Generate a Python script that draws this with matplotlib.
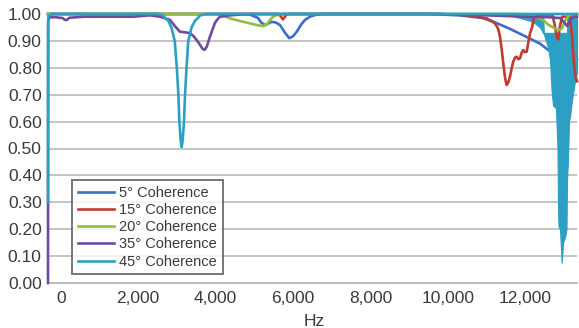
import matplotlib
matplotlib.use("Agg")
import matplotlib.pyplot as plt

plt.rcParams['font.family'] = ['Liberation Sans Narrow', 'Liberation Sans', 'DejaVu Sans']

# 주파수(Hz) / coherence 값
labels = ['5° Coherence', '15° Coherence', '20° Coherence', '35° Coherence', '45° Coherence']
colors = ['#3b6fc4', '#c23b32', '#8fbf3f', '#6f4a9e', '#2c9fc4']

f_5 = [-328, 4700, 4891, 5097, 5180, 5278, 5370, 5450, 5561, 5665, 5794, 5905, 6000, 6096,
       6207, 6310, 6439, 6568, 6749, 9500, 10300, 10900, 11200, 11600, 12030, 12380, 12560,
       12700, 13000, 13336]
v_5 = [1.0, 1.0, 0.998, 0.985, 0.968, 0.959, 0.965, 0.971, 0.968, 0.959, 0.93, 0.91, 0.917, 0.934,
       0.96, 0.978, 0.99, 0.996, 1.0, 1.0, 0.995, 0.985, 0.97, 0.945, 0.915, 0.89, 0.87,
       0.855, 0.84, 0.83]

f_15 = [-328, 5600, 5650, 5742, 5830, 5900, 9800, 10487, 11004, 11218, 11300, 11347, 11390,
        11432, 11480, 11520, 11560, 11605, 11650, 11690, 11735, 11778, 11820, 11863, 11905,
        11949, 11990, 12037, 12080, 12122, 12174, 12230, 12300, 12700, 12760, 12811, 12850,
        12890, 12950, 13150, 13200, 13250, 13290, 13336]
v_15 = [1.0, 1.0, 0.997, 0.98, 0.997, 1.0, 1.0, 0.996, 0.984, 0.965, 0.945, 0.916, 0.87,
        0.817, 0.76, 0.736, 0.745, 0.767, 0.80, 0.823, 0.838, 0.841, 0.832, 0.835, 0.855,
        0.866, 0.858, 0.86, 0.895, 0.928, 0.95, 0.99, 0.998, 0.998, 0.96, 0.915, 0.905,
        0.95, 0.99, 0.99, 0.93, 0.83, 0.77, 0.75]

f_20 = [-328, 3986, 4115, 4250, 4373, 4546, 4717, 4890, 5063, 5233, 5329, 5406, 5484, 5579,
        5742, 11800, 12251, 12466, 12595, 12724, 12845, 12941, 13026, 13100, 13155, 13336]
v_20 = [1.0, 1.0, 0.997, 0.99, 0.984, 0.977, 0.971, 0.965, 0.959, 0.955, 0.962, 0.978, 0.99,
        0.996, 1.0, 1.0, 0.99, 0.977, 0.96, 0.95, 0.94, 0.945, 0.975, 0.99, 0.998, 1.0]

f_35 = [-328, -324, -290, -150, 50, 111, 163, 220, 600, 1868, 2300, 2565, 2823, 2950, 3080,
        3210, 3340, 3430, 3513, 3600, 3668, 3720, 3771, 3856, 3985, 4060, 4115, 4370, 4800,
        9800, 11000, 12000, 12600, 12900, 13000, 13080, 13150, 13250, 13336]
v_35 = [0.0, 0.975, 0.988, 0.988, 0.985, 0.978, 0.978, 0.986, 0.99, 0.99, 0.995, 0.99, 0.978,
        0.955, 0.934, 0.932, 0.929, 0.918, 0.903, 0.885, 0.87, 0.867, 0.878, 0.916, 0.967,
        0.982, 0.99, 0.995, 1.0, 1.0, 0.995, 0.99, 0.988, 0.985, 0.97, 0.955, 0.975, 0.99, 0.99]

f_45 = [-328, -326, -318, -250, 2500, 2642, 2694, 2779, 2860, 2945, 3000, 3040, 3065, 3100,
        3125, 3150, 3185, 3211, 3250, 3296, 3380, 3469, 3546, 3600, 3800, 13336]
v_45 = [0.30, 0.95, 0.99, 1.0, 1.0, 0.995, 0.985, 0.975, 0.95, 0.90, 0.80, 0.70, 0.60, 0.53,
        0.505, 0.53, 0.60, 0.70, 0.80, 0.90, 0.95, 0.975, 0.985, 0.995, 1.0, 1.0]

# 45° 고주파 대역의 잡음 (하한/상한 포락선)
band_f = [11606, 11864, 12122, 12251, 12380, 12458, 12480, 12535, 12587, 12639, 12677, 12716,
          12793, 12832, 12845, 12858, 12897, 12941, 12975, 13026, 13065, 13078, 13090, 13103,
          13129, 13155, 13207, 13284, 13336]
band_lo = [0.995, 0.985, 0.975, 0.965, 0.95, 0.93, 0.925, 0.90, 0.875, 0.83, 0.72, 0.66,
           0.65, 0.50, 0.30, 0.21, 0.20, 0.075, 0.15, 0.17, 0.20, 0.38, 0.42, 0.45,
           0.60, 0.62, 0.68, 0.75, 0.78]
band_hi = [1.0, 1.0, 1.0, 1.0, 1.0, 1.0, 0.93, 0.93, 0.93, 0.93, 0.93, 0.93,
           0.93, 0.93, 0.93, 0.93, 0.93, 0.93, 0.93, 0.93, 0.93, 0.93, 1.0, 1.0,
           1.0, 1.0, 1.0, 1.0, 1.0]

xticks = [0, 2000, 4000, 6000, 8000, 10000, 12000]
yticks = [0.0, 0.1, 0.2, 0.3, 0.4, 0.5, 0.6, 0.7, 0.8, 0.9, 1.0]

fig = plt.figure(figsize=(5.79, 3.28), dpi=100)
ax = fig.add_axes([48 / 579, 1 - 283 / 328, 529 / 579, 269 / 328])

series = [(f_5, v_5), (f_15, v_15), (f_20, v_20), (f_35, v_35), (f_45, v_45)]
zorders = [2, 4, 4, 4, 5]
for (f, v), c, lab, z in zip(series, colors, labels, zorders):
    ax.plot(f, v, color=c, lw=1.9, label=lab, zorder=z, clip_on=False, solid_joinstyle='round')

ax.fill_between(band_f, band_lo, band_hi, color=colors[4], lw=0.8, edgecolor=colors[4], zorder=3)

ax.set_xlim(-328, 13336)
ax.set_ylim(0, 1.0)
ax.set_xticks(xticks)
ax.set_xticklabels([f'{t:,}' for t in xticks])
ax.set_yticks(yticks)
ax.set_yticklabels([f'{t:.2f}' for t in yticks])
ax.tick_params(length=0, labelsize=12.5, labelcolor='#3a3a3a')
ax.tick_params(axis='y', pad=4.5)
ax.tick_params(axis='x', pad=6)
for lab in ax.get_yticklabels():
    lab.set_verticalalignment('center_baseline')

ax.yaxis.grid(True, color='#c4c4c4', lw=1.4)
ax.set_axisbelow(True)
for s in ['top', 'right']:
    ax.spines[s].set_visible(False)
for s in ['left', 'bottom']:
    ax.spines[s].set_color('#bdbdbd')
    ax.spines[s].set_linewidth(1.4)

fig.text(314 / 579, 1 - 321 / 328, 'Hz', ha='center', va='center', fontsize=12.5, color='#3a3a3a')

leg = ax.legend(loc='upper left', bbox_to_anchor=(0.0448, 0.383), borderaxespad=0,
                fontsize=10.5, frameon=True, fancybox=False, handlelength=2.5,
                handletextpad=0.35, labelspacing=0.22, borderpad=0.4)
leg.get_frame().set_edgecolor('#555555')
leg.get_frame().set_linewidth(1.4)
for t in leg.get_texts():
    t.set_color('#3a3a3a')
leg.set_zorder(10)

fig.savefig('out.png', dpi=100)
